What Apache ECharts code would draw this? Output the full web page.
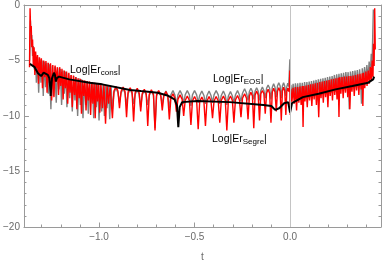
<!DOCTYPE html>
<html><head><meta charset="utf-8">
<script src="https://cdn.jsdelivr.net/npm/echarts@6/dist/echarts.min.js"></script>
<style>html,body{margin:0;padding:0;background:#fff}#c{width:382px;height:267px}</style>
</head><body><div id="c"></div>
<script>
const xMajorTicks = [-1.0, -0.5, 0.0];
const xMinorTicks = [-1.3,-1.2,-1.1,-0.9,-0.8,-0.7,-0.6,-0.4,-0.3,-0.2,-0.1,0.1,0.2,0.3,0.4];
const yMajorTicks = [-20,-15,-10,-5,0];

// red curve
const segreData = [
[-1.364,-5.6],[-1.361,-0.3],[-1.358,-2.4],[-1.355,-1.9],[-1.352,-3.8],[-1.348,-3.1],[-1.344,-5.5],[-1.340,-3.8],[-1.336,-6.3],[-1.332,-4.2],[-1.327,-5.7],[-1.322,-4.5],[-1.317,-7.1],[-1.312,-4.7],[-1.307,-6.2],[-1.302,-4.8],[-1.296,-7.5],[-1.290,-5.0],[-1.284,-6.5],[-1.278,-5.05],[-1.272,-7.9],[-1.266,-5.2],[-1.260,-7.0],[-1.254,-5.25],[-1.248,-8.6],[-1.242,-5.4],[-1.236,-8.3],[-1.230,-5.45],[-1.224,-6.9],[-1.218,-5.6],[-1.212,-8.1],[-1.206,-5.6],[-1.200,-7.3],[-1.194,-5.75],[-1.188,-8.5],[-1.182,-5.9],[-1.176,-7.5],[-1.170,-6.0],[-1.164,-8.9],[-1.158,-6.1],[-1.152,-7.9],[-1.146,-6.3],[-1.140,-9.2],[-1.134,-6.35],[-1.128,-8.1],[-1.122,-6.5],[-1.116,-9.4],[-1.110,-6.6],[-1.104,-8.4],[-1.098,-6.65],[-1.092,-9.8],[-1.086,-6.75],[-1.080,-8.2],[-1.074,-6.8],[-1.068,-9.5],[-1.062,-6.85],[-1.056,-8.6],[-1.050,-6.9],[-1.044,-9.9],[-1.038,-6.95],[-1.032,-8.9],[-1.026,-7.0],[-1.020,-10.2],[-1.014,-7.05],[-1.008,-8.7],[-1.002,-7.1],[-0.996,-9.7],[-0.990,-7.15],[-0.982,-9.3],[-0.974,-7.2],[-0.966,-10.7],[-0.958,-7.25],[-0.950,-8.9],[-0.942,-7.3],
[-0.930,-10.2],[-0.922,-7.75],[-0.911,-7.35],[-0.901,-7.75],
[-0.893,-9.3],[-0.885,-7.8],[-0.874,-7.4],[-0.864,-7.8],
[-0.856,-10.1],[-0.848,-7.85],[-0.837,-7.45],[-0.827,-7.85],
[-0.819,-10.5],[-0.811,-7.9],[-0.800,-7.5],[-0.790,-7.9],
[-0.782,-9.6],[-0.774,-8.0],[-0.763,-7.6],[-0.753,-8.0],
[-0.745,-10.9],[-0.737,-8.05],[-0.726,-7.65],[-0.715,-8.05],
[-0.707,-11.3],[-0.699,-8.1],[-0.688,-7.7],[-0.677,-8.1],
[-0.669,-9.5],[-0.661,-8.2],[-0.650,-7.8],[-0.640,-8.2],
[-0.632,-10.3],[-0.624,-8.4],[-0.613,-8.0],[-0.603,-8.4],
[-0.595,-9.6],[-0.587,-8.5],[-0.576,-8.1],[-0.565,-8.5],
[-0.557,-10.0],[-0.549,-8.6],[-0.538,-8.2],[-0.527,-8.6],
[-0.519,-10.8],[-0.511,-8.65],[-0.500,-8.25],[-0.489,-8.65],
[-0.481,-11.2],[-0.473,-8.7],[-0.462,-8.3],[-0.451,-8.7],
[-0.443,-10.9],[-0.435,-8.65],[-0.424,-8.25],[-0.414,-8.65],
[-0.406,-10.2],[-0.398,-8.65],[-0.387,-8.25],[-0.376,-8.65],
[-0.368,-10.6],[-0.360,-8.6],[-0.349,-8.2],[-0.339,-8.6],
[-0.331,-11.3],[-0.323,-8.6],[-0.312,-8.2],[-0.302,-8.6],
[-0.294,-10.6],[-0.286,-8.55],[-0.275,-8.15],[-0.265,-8.55],
[-0.257,-10.1],[-0.249,-8.4],[-0.238,-8.0],[-0.228,-8.4],
[-0.220,-10.3],[-0.213,-8.2],[-0.205,-7.85],[-0.197,-8.2],
[-0.190,-11.1],[-0.183,-8.1],[-0.175,-7.75],[-0.167,-8.1],
[-0.160,-10.4],[-0.153,-8.0],[-0.145,-7.7],[-0.137,-8.0],
[-0.130,-9.8],[-0.123,-7.95],[-0.115,-7.6],[-0.107,-7.95],
[-0.100,-10.6],[-0.093,-7.85],[-0.086,-7.5],[-0.079,-7.85],
[-0.072,-9.6],[-0.066,-7.8],[-0.059,-7.45],[-0.052,-7.8],
[-0.046,-10.4],[-0.040,-7.75],[-0.034,-7.4],[-0.028,-7.75],
[-0.022,-9.9],[-0.017,-7.8],[-0.012,-7.5],[-0.007,-7.8],
[-0.004,-7.6],[-0.001,-5.9],[0.001,-9.9],[0.004,-7.6],
[0.010,-8.7],[0.016,-7.45],[0.022,-8.9],[0.028,-7.4],[0.034,-9.5],[0.040,-7.4],[0.046,-8.8],[0.052,-7.35],[0.058,-9.0],[0.064,-7.3],[0.068,-11.0],[0.072,-7.3],[0.078,-8.7],[0.084,-7.25],[0.090,-9.2],[0.096,-7.2],[0.102,-8.6],[0.108,-7.15],[0.114,-9.1],[0.120,-7.1],[0.126,-8.5],[0.132,-7.05],[0.138,-9.0],[0.144,-7.0],[0.150,-10.1],[0.156,-6.95],[0.162,-8.4],[0.168,-6.9],[0.174,-8.8],[0.180,-6.85],[0.186,-8.3],[0.192,-6.8],[0.198,-9.2],[0.204,-6.75],[0.210,-8.2],[0.216,-6.7],[0.222,-8.6],[0.228,-6.65],[0.234,-8.1],[0.240,-6.6],[0.246,-8.5],[0.252,-6.55],[0.256,-10.1],[0.260,-6.5],[0.266,-8.0],[0.272,-6.5],[0.278,-8.4],[0.284,-6.45],[0.290,-7.9],[0.296,-6.45],[0.302,-8.3],[0.308,-6.4],[0.313,-9.4],[0.318,-6.4],[0.324,-7.8],[0.330,-6.35],[0.336,-8.2],[0.342,-6.3],[0.348,-7.7],[0.354,-6.25],[0.360,-8.1],[0.366,-6.2],[0.372,-7.6],[0.378,-6.15],[0.381,-9.1],[0.385,-6.1],[0.391,-7.5],[0.397,-6.0],[0.403,-7.3],[0.409,-5.9],[0.415,-7.1],[0.420,-5.6],[0.425,-6.8],[0.430,-5.0],[0.434,-6.5],[0.437,-3.5],[0.440,-5.5],[0.443,-0.3],[0.446,-4.0]
];

// gray curve
const eosData = [
[-1.363,-5.0],[-1.359,-1.4],[-1.356,-3.0],[-1.352,-2.7],[-1.348,-4.6],[-1.344,-3.7],[-1.339,-5.8],[-1.334,-4.3],[-1.328,-7.0],[-1.322,-4.7],[-1.316,-7.9],[-1.310,-4.9],[-1.304,-7.0],[-1.298,-5.0],[-1.292,-8.2],[-1.286,-5.1],[-1.280,-7.4],[-1.273,-5.2],[-1.266,-8.0],[-1.259,-5.35],[-1.252,-9.4],[-1.245,-5.45],[-1.238,-8.2],[-1.231,-5.55],[-1.224,-8.8],[-1.217,-5.65],[-1.210,-7.6],[-1.203,-5.75],[-1.196,-9.0],[-1.189,-5.9],[-1.182,-8.0],[-1.175,-6.0],[-1.168,-9.2],[-1.161,-6.15],[-1.154,-8.4],[-1.147,-6.3],[-1.140,-9.6],[-1.133,-6.4],[-1.126,-8.6],[-1.119,-6.5],[-1.112,-10.0],[-1.105,-6.6],[-1.098,-9.0],[-1.091,-6.7],[-1.084,-10.2],[-1.077,-6.8],[-1.070,-9.0],[-1.063,-6.85],[-1.056,-9.8],[-1.049,-6.9],[-1.042,-8.8],[-1.035,-6.95],[-1.028,-10.2],[-1.021,-7.0],[-1.014,-9.2],[-1.007,-7.05],[-1.000,-10.4],[-0.993,-7.1],[-0.986,-9.6],[-0.979,-7.15],[-0.972,-10.0],[-0.965,-7.2],[-0.958,-9.3],[-0.951,-7.25],[-0.944,-10.3],[-0.937,-7.35],
[-0.930,-9.4],[-0.922,-7.9],[-0.911,-7.5],[-0.901,-7.9],
[-0.893,-8.8],[-0.885,-7.95],[-0.874,-7.55],[-0.864,-7.95],
[-0.856,-9.0],[-0.848,-8.0],[-0.837,-7.6],[-0.827,-8.0],
[-0.819,-8.9],[-0.811,-8.05],[-0.800,-7.65],[-0.790,-8.05],
[-0.782,-9.2],[-0.774,-8.1],[-0.763,-7.7],[-0.753,-8.1],
[-0.745,-9.0],[-0.737,-8.15],[-0.726,-7.75],[-0.715,-8.15],
[-0.707,-11.1],[-0.699,-8.2],[-0.688,-7.8],[-0.677,-8.2],
[-0.669,-8.9],[-0.661,-8.15],[-0.650,-7.75],[-0.640,-8.15],
[-0.632,-9.3],[-0.624,-8.1],[-0.613,-7.7],[-0.603,-8.1],
[-0.595,-9.0],[-0.587,-8.1],[-0.576,-7.7],[-0.565,-8.1],
[-0.557,-8.9],[-0.549,-8.1],[-0.538,-7.7],[-0.527,-8.1],
[-0.519,-9.1],[-0.511,-8.1],[-0.500,-7.7],[-0.489,-8.1],
[-0.481,-8.8],[-0.473,-8.15],[-0.462,-7.75],[-0.451,-8.15],
[-0.443,-8.9],[-0.435,-8.15],[-0.424,-7.75],[-0.414,-8.15],
[-0.406,-8.8],[-0.398,-8.1],[-0.387,-7.7],[-0.376,-8.1],
[-0.368,-8.9],[-0.360,-8.15],[-0.349,-7.75],[-0.339,-8.15],
[-0.331,-9.0],[-0.323,-8.2],[-0.312,-7.8],[-0.302,-8.2],
[-0.294,-8.8],[-0.286,-8.1],[-0.275,-7.7],[-0.265,-8.1],
[-0.257,-8.7],[-0.249,-7.95],[-0.238,-7.55],[-0.228,-7.95],
[-0.220,-8.6],[-0.213,-7.8],[-0.205,-7.5],[-0.197,-7.8],
[-0.190,-8.5],[-0.183,-7.75],[-0.175,-7.45],[-0.167,-7.75],
[-0.160,-8.6],[-0.153,-7.7],[-0.145,-7.4],[-0.137,-7.7],
[-0.130,-8.4],[-0.123,-7.5],[-0.115,-7.2],[-0.107,-7.5],
[-0.100,-8.5],[-0.093,-7.4],[-0.086,-7.1],[-0.079,-7.4],
[-0.072,-8.3],[-0.066,-7.3],[-0.059,-7.0],[-0.052,-7.3],
[-0.046,-8.4],[-0.040,-7.3],[-0.034,-7.0],[-0.028,-7.3],
[-0.022,-8.2],[-0.017,-7.35],[-0.012,-7.05],[-0.007,-7.35],
[-0.004,-7.4],[-0.001,-4.9],[0.001,-9.0],[0.004,-7.2],
[0.010,-8.3],[0.016,-7.1],[0.022,-8.4],[0.028,-7.05],[0.034,-8.2],[0.040,-7.05],[0.046,-8.5],[0.052,-7.0],[0.058,-8.3],[0.064,-7.0],[0.070,-8.6],[0.076,-6.95],[0.082,-8.2],[0.088,-6.95],[0.094,-8.4],[0.100,-6.9],[0.106,-8.1],[0.112,-6.85],[0.118,-8.3],[0.124,-6.8],[0.130,-8.0],[0.136,-6.75],[0.142,-8.2],[0.148,-6.7],[0.154,-7.9],[0.160,-6.65],[0.166,-8.1],[0.172,-6.6],[0.178,-7.8],[0.184,-6.55],[0.190,-8.0],[0.196,-6.5],[0.202,-7.7],[0.208,-6.45],[0.214,-7.9],[0.220,-6.4],[0.226,-7.6],[0.232,-6.3],[0.238,-7.8],[0.244,-6.25],[0.250,-7.5],[0.256,-6.2],[0.262,-7.7],[0.268,-6.15],[0.274,-7.4],[0.280,-6.1],[0.286,-7.6],[0.292,-6.05],[0.298,-7.3],[0.304,-6.05],[0.310,-9.4],[0.316,-6.0],[0.322,-7.3],[0.328,-5.95],[0.334,-7.5],[0.340,-5.9],[0.346,-7.2],[0.352,-5.85],[0.358,-7.4],[0.364,-5.8],[0.370,-7.1],[0.374,-8.9],[0.378,-5.7],[0.384,-7.0],[0.390,-5.6],[0.396,-6.9],[0.402,-5.4],[0.408,-6.7],[0.414,-5.1],[0.420,-6.3],[0.425,-4.4],[0.429,-5.6],[0.433,-2.5],[0.436,-0.4]
];

// black curve
const consData = [
[-1.362,-5.3],[-1.337,-5.6],[-1.320,-6.15],[-1.303,-6.4],[-1.290,-6.1],[-1.280,-6.0],[-1.268,-6.3],[-1.260,-6.6],[-1.256,-7.4],[-1.253,-8.2],[-1.250,-7.3],[-1.246,-6.6],[-1.236,-6.1],[-1.231,-6.3],[-1.226,-6.9],[-1.221,-6.6],[-1.210,-6.45],[-1.156,-6.7],[-1.050,-7.0],[-0.983,-7.15],[-0.838,-7.65],[-0.781,-7.75],[-0.693,-7.9],[-0.642,-8.15],[-0.605,-8.5],[-0.592,-9.05],[-0.585,-11.0],[-0.578,-9.2],[-0.565,-8.75],[-0.486,-8.65],[-0.316,-8.75],[-0.140,-9.0],[-0.098,-9.1],[-0.078,-9.45],[-0.057,-9.3],[-0.031,-8.85],[-0.010,-8.75],[0.0,-9.7],[0.010,-8.85],[0.067,-8.3],[0.150,-8.0],[0.238,-7.6],[0.326,-7.3],[0.409,-7.0],[0.435,-6.7],[0.440,-6.45]
];

const XMIN = -1.393, XMAX = 0.476;
const FONT = 'Liberation Sans, Arial, sans-serif';
const AX = '#9a9a9a', LB = '#6a6a6a';
const fmt = v => (v < 0 ? '\u2212' : '') + Math.abs(v).toFixed(1);
const fmtY = v => (v < 0 ? '\u2212' : '') + Math.abs(v);

function xAx(pos, ticks, len, withLabel, withLine) {
  return {
    type: 'value', position: pos, min: XMIN, max: XMAX,
    axisLine: {show: withLine, onZero: false, lineStyle: {color: AX, width: 1}},
    axisTick: {show: true, inside: true, length: len, customValues: ticks, lineStyle: {color: AX}},
    axisLabel: withLabel ? {show: true, customValues: xMajorTicks, formatter: fmt, color: LB, fontSize: 10, fontFamily: FONT, margin: 5}
                         : {show: false},
    splitLine: {show: false},
    name: withLabel ? 't' : '', nameLocation: 'middle', nameGap: 25,
    nameTextStyle: {color: LB, fontSize: 10, fontFamily: FONT}
  };
}
function yAx(pos, withLabel) {
  return {
    type: 'value', position: pos, min: -20, max: 0, interval: 5,
    axisLine: {show: true, onZero: false, lineStyle: {color: AX, width: 1}},
    axisTick: {show: true, inside: true, length: 5, lineStyle: {color: AX}},
    minorTick: {show: true, splitNumber: 5, length: 2.5, lineStyle: {color: AX}},
    axisLabel: withLabel ? {show: true, formatter: fmtY, color: LB, fontSize: 10, fontFamily: FONT, margin: 4} : {show: false},
    splitLine: {show: false}, minorSplitLine: {show: false}
  };
}

const chart = echarts.init(document.getElementById('c'), null, {renderer: 'canvas'});
const richStyle = {
  m: {fontSize: 10.5, fontFamily: FONT, fill: '#000', lineHeight: 12, verticalAlign: 'top'},
  s: {fontSize: 8, fontFamily: FONT, fill: '#000', lineHeight: 9, padding: [5, 0, 0, 0], verticalAlign: 'bottom'}
};
function lbl(x, y, sub) {
  return {type: 'text', left: x, top: y, z: 100,
    style: {text: '{m|Log|Er}{s|' + sub + '}{m||}', rich: richStyle}};
}
chart.setOption({
  animation: false,
  backgroundColor: '#fff',
  grid: {left: 21, right: 1, top: 5, bottom: 38},
  xAxis: [
    xAx('bottom', xMajorTicks, 4.5, true, true),
    xAx('bottom', xMinorTicks, 2.5, false, false),
    xAx('top', xMajorTicks, 4.5, false, true),
    xAx('top', xMinorTicks, 2.5, false, false)
  ],
  yAxis: [yAx('left', true), yAx('right', false)],
  series: [
    {type: 'line', data: [], xAxisIndex: 0, yAxisIndex: 0, z: 1, silent: true,
     markLine: {silent: true, symbol: ['none', 'none'], label: {show: false},
       lineStyle: {color: '#c4c4c4', width: 1, type: 'solid'}, data: [{xAxis: 0}]}},
    {name: 'EOS', type: 'line', data: eosData, showSymbol: false, z: 2,
     lineStyle: {color: '#808080', width: 1.4}, itemStyle: {color: '#808080'}},
    {name: 'Segre', type: 'line', data: segreData, showSymbol: false, z: 3,
     lineStyle: {color: '#ff0000', width: 1.4}, itemStyle: {color: '#ff0000'}},
    {name: 'cons', type: 'line', data: consData, showSymbol: false, z: 4,
     lineStyle: {color: '#000', width: 2}, itemStyle: {color: '#000'}}
  ],
  graphic: [lbl(70, 64, 'cons'), lbl(213, 73, 'EOS'), lbl(212, 133, 'Segre')]
});
</script></body></html>
